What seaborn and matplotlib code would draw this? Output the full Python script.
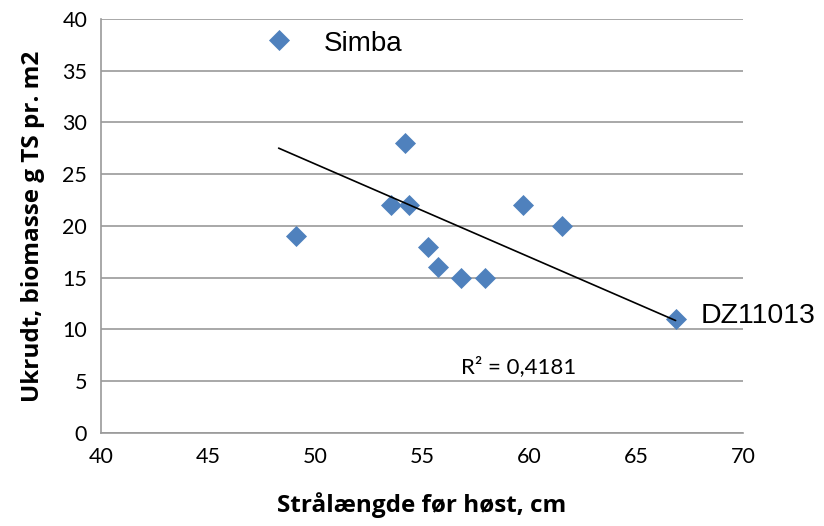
import numpy as np
import pandas as pd
import seaborn as sns
from matplotlib import pyplot as plt

# straw length before harvest (cm) vs weed biomass (g DM per m2)
straw_length = [48.3, 49.1, 53.55, 54.2, 54.4, 55.3, 55.75, 56.8, 57.95, 59.7, 61.55, 66.85]
weed_biomass = [38, 19, 22, 28, 22, 18, 16, 15, 15, 22, 20, 11]
x_ticks = [40, 45, 50, 55, 60, 65, 70]
y_ticks = [0, 5, 10, 15, 20, 25, 30, 35, 40]

df = pd.DataFrame({"x": straw_length, "y": weed_biomass})

sns.set_style("white")
plt.rcParams["text.color"] = "black"
plt.rcParams["axes.labelcolor"] = "black"
grid_col = "#9a9a9a"

fig = plt.figure(figsize=(8.24, 5.26), dpi=100)
ax = fig.add_axes([0.1226, 0.1768, 0.9017 - 0.1226, 0.9639 - 0.1768])

sns.regplot(data=df, x="x", y="y", ci=None, ax=ax,
            marker="D", color="#4F81BD",
            scatter_kws={"s": 115, "linewidths": 0, "alpha": 1, "zorder": 3},
            line_kws={"color": "black", "linewidth": 1.2, "zorder": 4})

ax.set_xlim(40, 70)
ax.set_ylim(0, 40)
ax.set_xticks(x_ticks)
ax.set_yticks(y_ticks)
ax.yaxis.grid(True, color=grid_col, linewidth=1.2)
ax.set_axisbelow(True)
for s in ["top", "right"]:
    ax.spines[s].set_visible(False)
for s in ["left", "bottom"]:
    ax.spines[s].set_color(grid_col)
    ax.spines[s].set_linewidth(1.2)
ax.tick_params(axis="both", direction="out", length=6, width=1.2, color=grid_col,
               labelsize=15.5, labelcolor="black", pad=4)
for lab in ax.get_xticklabels() + ax.get_yticklabels():
    lab.set_family("Lato")

ax.set_xlabel("Strålængde før høst, cm", fontsize=17.5, fontweight="bold",
              family="Open Sans", labelpad=18, color="black")
ax.set_ylabel("Ukrudt, biomasse g TS pr. m2", fontsize=17.5, fontweight="bold",
              family="Open Sans", labelpad=12, color="black")

ax.text(50.4, 37.6, "Simba", fontsize=20, family="Liberation Sans", va="center")
ax.text(68.0, 11.3, "DZ11013", fontsize=20.5, family="Liberation Sans", va="center",
        clip_on=False)
ax.text(56.8, 6.4, "R² = 0,4181", fontsize=16, family="Lato", va="center")

plt.savefig("out.png", dpi=100)
plt.close()
